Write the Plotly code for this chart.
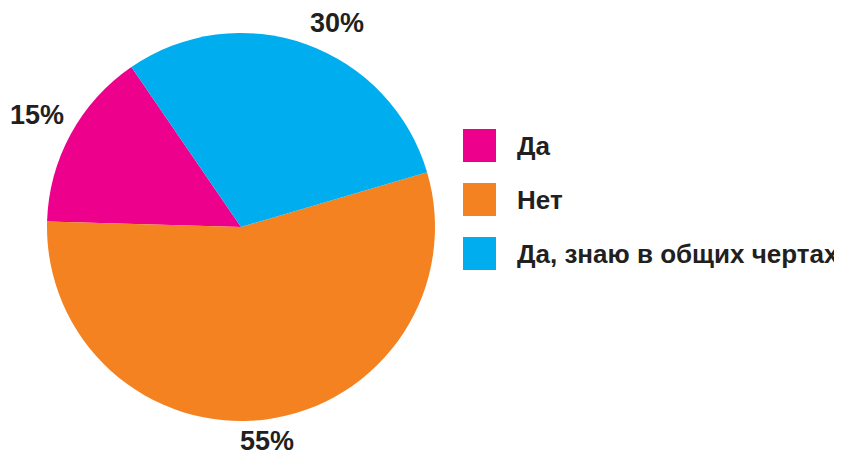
import math
import plotly.graph_objects as go

labels = ["Да", "Нет", "Да, знаю в общих чертах"]
values = [15, 55, 30]
colors = ["#EC008C", "#F48221", "#00AEEF"]

W, H = 842, 455
OFF = 8  # page body margin offset
FONT = "Liberation Sans"
TXT = "#231F20"
ROT = -88.4

cx, cy, r = 241 - OFF, 227 - OFF, 194
fig = go.Figure(go.Pie(
    labels=labels, values=values, sort=False,
    direction="counterclockwise", rotation=ROT,
    marker=dict(colors=colors, line=dict(width=0)),
    textinfo="none",
    domain=dict(x=[(cx - r) / W, (cx + r) / W], y=[1 - (cy + r) / H, 1 - (cy - r) / H]),
    showlegend=False, hoverinfo="label+value",
))

shapes, annos = [], []

# percentage labels just outside each slice, at the slice's mid angle
total = sum(values)
start = ROT + values[0] * 360 / total
gap = 5
for v in values:
    a1 = start - v * 360 / total
    mid = math.radians((start + a1) / 2)
    start = a1
    s, c = math.sin(mid), math.cos(mid)
    px = cx + (r + gap) * s
    py = cy - (r + gap) * c
    xa = "left" if s > 0.3 else ("right" if s < -0.3 else "center")
    ya = "bottom" if c > 0 else "top"
    annos.append(dict(xref="paper", yref="paper", x=px / W, y=1 - py / H,
                      xanchor=xa, yanchor=ya, showarrow=False, text=f"{v}%",
                      font=dict(family=FONT, size=27, color=TXT, weight="bold")))

# legend
for i, (lab, col) in enumerate(zip(labels, colors)):
    top = 129 + i * 54 - OFF
    x0 = 463 - OFF
    shapes.append(dict(type="rect", xref="paper", yref="paper",
                       x0=x0 / W, x1=(x0 + 33) / W, y0=1 - (top + 33) / H, y1=1 - top / H,
                       fillcolor=col, line=dict(width=0)))
    annos.append(dict(xref="paper", yref="paper", x=(515 - OFF) / W, y=1 - (top + 16.5) / H,
                      xanchor="left", yanchor="middle", showarrow=False, text=lab,
                      font=dict(family=FONT, size=26, color=TXT, weight="bold")))

fig.update_layout(width=W, height=H,
                  margin=dict(l=0, r=0, t=0, b=0, pad=0, autoexpand=False),
                  paper_bgcolor="white", plot_bgcolor="white",
                  shapes=shapes, annotations=annos)
fig.write_html("out.html")
